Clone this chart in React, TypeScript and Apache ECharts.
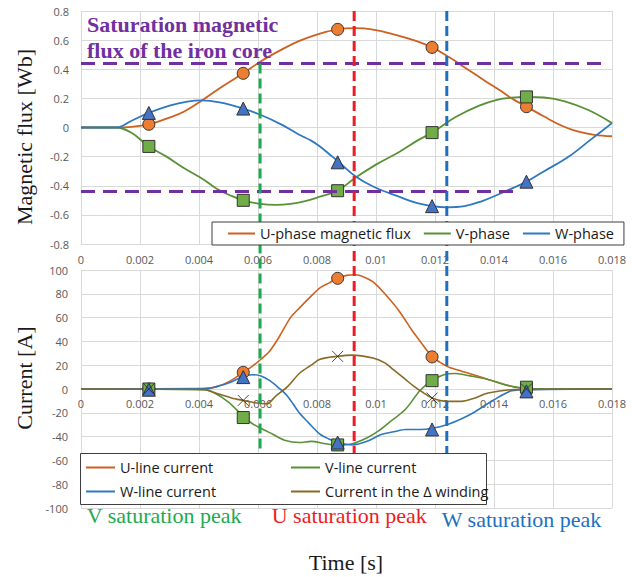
import React, { useEffect, useRef } from 'react';
import * as echarts from 'echarts';

const W = 632;
const H = 577;

// ---- axes ----
const timeMin = 0;
const timeMax = 0.018;
const timeStep = 0.002;
const fluxMin = -0.8;
const fluxMax = 0.8;
const fluxStep = 0.2;
const curMin = -100;
const curMax = 100;
const curStep = 20;

// ---- magnetic flux (Wb) [time, value] ----
const uFlux: [number, number][] = [
  [0, 0], [0.0012, 0], [0.0017, 0.004], [0.0023, 0.022], [0.003, 0.068], [0.0035, 0.11],
  [0.0041, 0.185], [0.0047, 0.27], [0.0055, 0.372], [0.0061, 0.455], [0.0068, 0.535],
  [0.0074, 0.595], [0.0081, 0.645], [0.0087, 0.674], [0.0093, 0.682], [0.0099, 0.672],
  [0.0106, 0.64], [0.0113, 0.598], [0.0119, 0.55], [0.0125, 0.48], [0.0131, 0.4],
  [0.0137, 0.32], [0.0142, 0.255], [0.0146, 0.2], [0.0151, 0.143], [0.0157, 0.075],
  [0.0163, 0.012], [0.0168, -0.025], [0.0174, -0.05], [0.018, -0.06],
];
const vFlux: [number, number][] = [
  [0, 0], [0.0012, 0], [0.0017, -0.035], [0.0023, -0.13], [0.0029, -0.2], [0.0035, -0.28],
  [0.0041, -0.35], [0.0046, -0.42], [0.0051, -0.47], [0.0055, -0.5], [0.006, -0.522],
  [0.0066, -0.532], [0.0071, -0.525], [0.0076, -0.505], [0.0081, -0.475], [0.0087, -0.434],
  [0.0093, -0.345], [0.01, -0.255], [0.0108, -0.166], [0.0114, -0.09], [0.0119, -0.035],
  [0.0127, 0.072], [0.0135, 0.15], [0.0141, 0.19], [0.0146, 0.205], [0.0151, 0.21],
  [0.0157, 0.206], [0.0164, 0.18], [0.0172, 0.12], [0.018, 0.03],
];
const wFlux: [number, number][] = [
  [0, 0], [0.0012, 0], [0.0017, 0.045], [0.0023, 0.1], [0.003, 0.15], [0.0036, 0.178],
  [0.0041, 0.186], [0.0047, 0.172], [0.0055, 0.13], [0.0061, 0.086], [0.0068, 0.02],
  [0.0074, -0.05], [0.0078, -0.09], [0.0081, -0.13], [0.0084, -0.18], [0.0087, -0.23],
  [0.0093, -0.335], [0.0099, -0.405], [0.0108, -0.477], [0.0114, -0.52], [0.0119, -0.54],
  [0.0124, -0.548], [0.013, -0.54], [0.0136, -0.505], [0.0142, -0.455], [0.0147, -0.41],
  [0.0151, -0.372], [0.0157, -0.3], [0.0165, -0.205], [0.0173, -0.08], [0.018, 0.03],
];

// ---- currents (A) [time, value] ----
const uCur: [number, number][] = [
  [0, 0], [0.0042, 0.3], [0.0046, 2], [0.005, 6], [0.0055, 14], [0.0058, 19], [0.0061, 25],
  [0.0064, 32], [0.0067, 43], [0.0071, 60], [0.0074, 68], [0.0078, 78], [0.0081, 85],
  [0.0084, 89], [0.0087, 93], [0.009, 95.5], [0.0093, 96], [0.0096, 94], [0.0099, 90],
  [0.0103, 80], [0.0108, 65], [0.0112, 50], [0.0115, 40], [0.0119, 27], [0.0122, 22],
  [0.0125, 18], [0.0129, 15], [0.0133, 12], [0.0138, 8], [0.0142, 5], [0.0147, 1.5],
  [0.0151, 0.5], [0.0156, 0], [0.018, 0],
];
const vCur: [number, number][] = [
  [0, 0], [0.0042, -0.5], [0.0045, -3], [0.005, -11], [0.0055, -23], [0.0058, -29],
  [0.0061, -33], [0.0065, -38], [0.0069, -43], [0.0074, -45], [0.0078, -44], [0.0083, -46],
  [0.0087, -47], [0.0092, -46], [0.0097, -41], [0.0101, -35], [0.0104, -29], [0.011, -17],
  [0.0115, -1], [0.0119, 7], [0.0123, 12], [0.0127, 13], [0.0132, 11], [0.0138, 8],
  [0.0143, 4], [0.0149, 1], [0.0155, 0], [0.018, 0],
];
const wCur: [number, number][] = [
  [0, 0], [0.0043, 0.5], [0.0046, 2], [0.005, 5], [0.0055, 10.6], [0.0058, 12], [0.0061, 11],
  [0.0064, 7], [0.0067, 1], [0.007, -6], [0.0074, -20], [0.0077, -28], [0.0081, -38],
  [0.0084, -42], [0.0087, -45], [0.0092, -47], [0.0097, -44], [0.0102, -38], [0.0106, -36],
  [0.011, -34], [0.0115, -34], [0.0119, -33], [0.0124, -30], [0.0129, -25], [0.0133, -20],
  [0.014, -9], [0.0146, -1.5], [0.0152, -0.5], [0.018, 0],
];
const dCur: [number, number][] = [
  [0, 0], [0.0042, -0.5], [0.0045, -3], [0.0051, -7.5], [0.0055, -9.6], [0.0059, -11.5],
  [0.0063, -12.4], [0.0066, -6], [0.007, 2], [0.0074, 13], [0.0078, 20], [0.0081, 25],
  [0.0087, 27.5], [0.0092, 28.5], [0.0099, 26], [0.0103, 22], [0.0106, 16], [0.011, 8],
  [0.0113, 2], [0.0116, -3], [0.0119, -7.6], [0.0124, -10.4], [0.0129, -10.4], [0.0133, -8],
  [0.0138, -3.4], [0.0147, -0.5], [0.018, 0],
];

// ---- markers ----
const markerTimes = [0.0023, 0.0055, 0.0087, 0.0119, 0.0151];
const uFluxMarks = [0.022, 0.372, 0.674, 0.55, 0.143];
const vFluxMarks = [-0.13, -0.5, -0.434, -0.035, 0.21];
const wFluxMarks = [0.1, 0.13, -0.239, -0.54, -0.372];
const uCurMarks = [0, 14, 93, 27, 0.5];
const vCurMarks = [0, -24, -47, 7, 1.5];
const wCurMarks = [-0.6, 10, -45, -34, -2];
const dCurMarks = [0, -9.6, 27.4, -7.6, 0];

// ---- reference lines ----
const satFlux = 0.44;
const satUpperEnd = 0.0178;
const satLowerEnd = 0.0147;
const peakNames = ['V saturation peak', 'U saturation peak', 'W saturation peak'];
const peakTimes = [0.00607, 0.00926, 0.0124];
const peakStartFlux = [0.44, 0.8, 0.8];
const peakEndCurrent = -55;

const fluxNames = ['U-phase magnetic flux', 'V-phase', 'W-phase'];
const curNames = ['U-line current', 'V-line current', 'W-line current', 'Current in the Δ winding'];

const C = {
  uLine: '#CD6120', uMark: '#ED7D31',
  vLine: '#5A9137', vMark: '#70AD47',
  wLine: '#2E78C2', wMark: '#4472C4',
  dLine: '#876A25',
  grid: '#d9d9d9', label: '#595959', text: '#1a1a1a',
  purple: '#7030A0',
  peak: ['#1DAA4E', '#EE1C25', '#1E70BF'],
};

const SANS = '"Open Sans", "Noto Sans", sans-serif';
const SERIF = '"Liberation Serif", "DejaVu Serif", serif';

const topGrid = { left: 81, right: 20, top: 11, height: 233 };
const botGrid = { left: 81, right: 20, top: 270, height: 238 };

function lineSeries(name: string, data: [number, number][], color: string, idx: number, width: number, smooth: number) {
  return {
    type: 'line', name, data, xAxisIndex: idx, yAxisIndex: idx,
    showSymbol: false, symbol: 'none', smooth,
    lineStyle: { color, width }, itemStyle: { color }, z: 2,
    emphasis: { disabled: true },
  };
}

function markSeries(name: string, vals: number[], symbol: string, fill: string, idx: number, size: number) {
  return {
    type: 'scatter', name, xAxisIndex: idx, yAxisIndex: idx,
    data: markerTimes.map((t, i) => [t, vals[i]]),
    symbol, symbolSize: size, silent: true, z: 4,
    itemStyle: { color: fill, borderColor: '#333333', borderWidth: 1, opacity: 1 },
    emphasis: { disabled: true },
  };
}

const xAxisBase = (idx: number, margin: number, onZero: boolean, offset: number) => ({
  type: 'value', gridIndex: idx, min: timeMin, max: timeMax, interval: timeStep,
  position: 'bottom', offset,
  axisLine: { show: true, onZero, lineStyle: { color: C.grid } },
  axisTick: { show: false },
  axisLabel: {
    color: C.label, fontSize: 11, fontFamily: SANS, margin,
    formatter: (v: number) => String(Math.round(v * 1000) / 1000),
  },
  splitLine: { show: true, lineStyle: { color: C.grid, width: 1 } },
});

// bottom x axis sits on the zero of the current axis
const botZeroOffset = -botGrid.height * (0 - curMin) / (curMax - curMin);

const legendText = { fontFamily: SANS, fontSize: 14.5, color: C.text };

export default function App() {
  const ref = useRef<HTMLDivElement>(null);
  useEffect(() => {
    const chart = echarts.init(ref.current!, undefined, { renderer: 'svg', width: W, height: H });
    const option: any = {
      animation: false,
      backgroundColor: '#ffffff',
      grid: [topGrid, botGrid],
      xAxis: [xAxisBase(0, 10, true, 0), xAxisBase(1, 9, false, botZeroOffset)],
      yAxis: [
        {
          type: 'value', gridIndex: 0, min: fluxMin, max: fluxMax, interval: fluxStep,
          axisLine: { show: false }, axisTick: { show: false },
          axisLabel: { color: C.label, fontSize: 11, fontFamily: SANS, margin: 12,
            formatter: (v: number) => String(Math.round(v * 10) / 10) },
          splitLine: { lineStyle: { color: C.grid, width: 1 } },
        },
        {
          type: 'value', gridIndex: 1, min: curMin, max: curMax, interval: curStep,
          axisLine: { show: false }, axisTick: { show: false },
          axisLabel: { color: C.label, fontSize: 11, fontFamily: SANS, margin: 13,
            formatter: (v: number) => String(Math.round(v)) },
          splitLine: { lineStyle: { color: C.grid, width: 1 } },
        },
      ],
      legend: [
        {
          data: fluxNames, left: 212, top: 222, orient: 'horizontal',
          icon: 'rect', itemWidth: 27, itemHeight: 2, itemGap: 13,
          padding: [4, 10, 4, 16],
          backgroundColor: '#ffffff', borderColor: '#3f3f3f', borderWidth: 1, borderRadius: 0,
          textStyle: legendText,
          selectedMode: false, z: 10,
        },
        {
          data: [curNames[0], curNames[2]], left: 84, top: 458, orient: 'vertical',
          icon: 'rect', itemWidth: 29, itemHeight: 2, itemGap: 9, padding: 2,
          textStyle: legendText,
          selectedMode: false, z: 10,
        },
        {
          data: [curNames[1], curNames[3]], left: 289, top: 458, orient: 'vertical',
          icon: 'rect', itemWidth: 29, itemHeight: 2, itemGap: 9, padding: 2,
          textStyle: legendText,
          selectedMode: false, z: 10,
        },
      ],
      series: [
        {
          ...lineSeries(fluxNames[0], uFlux, C.uLine, 0, 1.8, 0.4),
          markLine: {
            silent: true, symbol: ['none', 'none'], label: { show: false },
            lineStyle: { color: C.purple, width: 3, type: [14, 8] },
            emphasis: { disabled: true },
            data: [
              [{ coord: [timeMin, satFlux] }, { coord: [satUpperEnd, satFlux] }],
              [{ coord: [timeMin, -satFlux] }, { coord: [satLowerEnd, -satFlux] }],
            ],
          },
        },
        lineSeries(fluxNames[1], vFlux, C.vLine, 0, 1.8, 0.4),
        lineSeries(fluxNames[2], wFlux, C.wLine, 0, 1.8, 0.4),
        markSeries('U flux markers', uFluxMarks, 'circle', C.uMark, 0, 12),
        markSeries('V flux markers', vFluxMarks, 'rect', C.vMark, 0, 12),
        markSeries('W flux markers', wFluxMarks, 'triangle', C.wMark, 0, 13),

        lineSeries(curNames[0], uCur, C.uLine, 1, 1.6, 0.3),
        lineSeries(curNames[1], vCur, C.vLine, 1, 1.6, 0.3),
        lineSeries(curNames[2], wCur, C.wLine, 1, 1.6, 0.3),
        lineSeries(curNames[3], dCur, C.dLine, 1, 1.6, 0.3),
        markSeries('U current markers', uCurMarks, 'circle', C.uMark, 1, 12),
        markSeries('V current markers', vCurMarks, 'rect', C.vMark, 1, 12),
        markSeries('W current markers', wCurMarks, 'triangle', C.wMark, 1, 13),
        {
          type: 'scatter', name: 'Δ current markers', xAxisIndex: 1, yAxisIndex: 1,
          data: markerTimes.map((t, i) => [t, dCurMarks[i]]),
          symbol: 'path://M0 0L10 10M10 0L0 10', symbolSize: 11, silent: true, z: 5,
          itemStyle: { color: 'none', borderColor: '#222222', borderWidth: 1 },
          emphasis: { disabled: true },
        },
      ],
    };
    chart.setOption(option);

    const graphics: any[] = [];
    peakTimes.forEach((t, i) => {
      const p1 = chart.convertToPixel({ gridIndex: 0 } as any, [t, peakStartFlux[i]]) as number[];
      const p2 = chart.convertToPixel({ gridIndex: 1 } as any, [t, peakEndCurrent]) as number[];
      graphics.push({
        type: 'line', z: 6, silent: true,
        shape: { x1: p1[0], y1: p1[1], x2: p2[0], y2: p2[1] },
        style: { stroke: C.peak[i], lineWidth: 3, lineDash: [10, 5] },
      });
    });
    graphics.push({
      type: 'rect', z: 8, silent: true,
      shape: { x: 80.5, y: 453.5, width: 406, height: 51 },
      style: { fill: '#ffffff', stroke: '#3f3f3f', lineWidth: 1 },
    });
    const txt = (text: string, x: number, y: number, color: string, extra: any = {}) => ({
      type: 'text', x, y, z: 12, silent: true, ...extra,
      style: {
        text, fill: color, fontFamily: SERIF, fontSize: 22,
        align: 'left', verticalAlign: 'middle', ...(extra.style || {}),
      },
    });
    graphics.push(txt('Saturation magnetic', 87, 24.6, C.purple, { style: { fontWeight: 'bold' } }));
    graphics.push(txt('flux of the iron core', 87, 50.6, C.purple, { style: { fontWeight: 'bold' } }));
    graphics.push(txt(peakNames[0], 86.7, 515.6, C.peak[0]));
    graphics.push(txt(peakNames[1], 271.7, 515.3, C.peak[1]));
    graphics.push(txt(peakNames[2], 441.7, 519.3, C.peak[2]));
    graphics.push(txt('Time [s]', 346, 562.6, C.text, { style: { align: 'center' } }));
    graphics.push(txt('Magnetic flux [Wb]', 24, 137, C.text, { rotation: Math.PI / 2, style: { align: 'center' } }));
    graphics.push(txt('Current [A]', 24, 378, C.text, { rotation: Math.PI / 2, style: { align: 'center' } }));
    chart.setOption({ graphic: graphics });

    return () => chart.dispose();
  }, []);
  return (
    <div
      ref={ref}
      style={{ position: 'fixed', left: 0, top: 0, width: W, height: H, background: '#ffffff' }}
    />
  );
}
